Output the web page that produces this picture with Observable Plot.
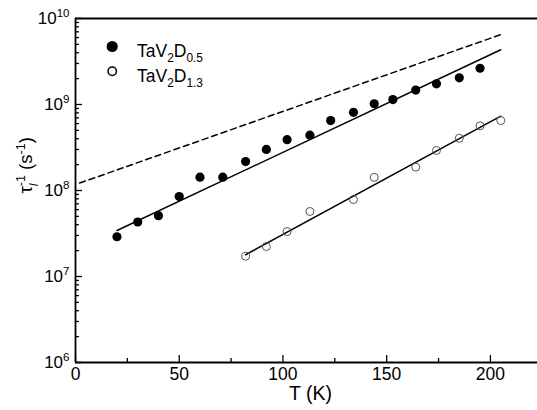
<!DOCTYPE html>
<html><head><meta charset="utf-8">
<script src="https://cdn.jsdelivr.net/npm/d3@7"></script>
<script src="https://cdn.jsdelivr.net/npm/@observablehq/plot@0.6"></script>
<style>
body{margin:0;background:#fff;}
#chart{width:537px;height:410px;overflow:hidden;}
svg{font-family:"Liberation Sans",Arial,Helvetica,sans-serif;}
</style></head><body><div id="chart"></div>
<script>
// TaV2D0.5 (filled)
const tempD05 = [20, 30, 40, 50, 60, 71, 82, 92, 102, 113, 123, 134, 144, 153, 164, 174, 185, 195];
const rateD05 = [2.9e7, 4.3e7, 5.1e7, 8.5e7, 1.43e8, 1.43e8, 2.17e8, 3.0e8, 3.9e8, 4.4e8, 6.5e8, 8.1e8, 1.02e9, 1.14e9, 1.47e9, 1.74e9, 2.04e9, 2.64e9];
// TaV2D1.3 (open)
const tempD13 = [82, 92, 102, 113, 134, 144, 164, 174, 185, 195, 205];
const rateD13 = [1.72e7, 2.23e7, 3.33e7, 5.7e7, 7.85e7, 1.42e8, 1.87e8, 2.92e8, 4.05e8, 5.65e8, 6.5e8];
// fitted lines (endpoints)
const fitD05T = [20, 205];
const fitD05Rate = [3.43e7, 4.33e9];
const fitD13T = [82, 205];
const fitD13Rate = [1.79e7, 7.31e8];
const dashedT = [2, 205];
const dashedRate = [1.22e8, 6.5e9];
// legend / labels
const seriesNames = ["TaV_{2}D_{0.5}", "TaV_{2}D_{1.3}"];
const xLabel = "T (K)";
const yLabel = "τ_{*l}^{-1} (s^{-1})";
// ticks
const xMajor = [0, 50, 100, 150, 200];
const xMinor = [25, 75, 125, 175];
const yExponents = [6, 7, 8, 9, 10];
const yMajor = yExponents.map(e => Math.pow(10, e));
const yMinor = [];
yExponents.slice(0, -1).forEach(e => { for (let m = 2; m <= 9; m++) yMinor.push(m * Math.pow(10, e)); });

const zip = (xs, ys) => xs.map((x, i) => ({x, y: ys[i]}));
const d05 = zip(tempD05, rateD05);
const d13 = zip(tempD13, rateD13);
const f05 = zip(fitD05T, fitD05Rate);
const f13 = zip(fitD13T, fitD13Rate);
const fd = zip(dashedT, dashedRate);

const chart = Plot.plot({
  width: 537,
  height: 410,
  marginLeft: 75,
  marginTop: 18,
  marginBottom: 48,
  marginRight: 0,
  style: {fontFamily: '"Liberation Sans", Arial, sans-serif', background: "#fff", color: "#000"},
  x: {domain: [0, 222.7]},
  y: {type: "log", domain: [1e6, 1e10]},
  marks: [
    Plot.axisX({ticks: xMajor, tickSize: -7, tickFormat: () => "", label: null, strokeWidth: 1.3}),
    Plot.axisX({ticks: xMinor, tickSize: -4, tickFormat: () => "", label: null, strokeWidth: 1.3}),
    Plot.axisX({ticks: xMajor, tickSize: 0, tickPadding: 5, fontSize: 17.5, label: null, tickFormat: d => String(d)}),
    Plot.axisY({ticks: yMajor, tickSize: -7, tickFormat: () => "", label: null, strokeWidth: 1.3}),
    Plot.axisY({ticks: yMinor, tickSize: -4, tickFormat: () => "", label: null, strokeWidth: 1.3}),
    Plot.axisY({ticks: yMajor, tickSize: 0, tickPadding: 6, fontSize: 17, label: null, tickFormat: d => `10^{${Math.round(Math.log10(d))}}`}),
    Plot.ruleY([1e10], {strokeWidth: 1.8}),
    Plot.ruleY([1e6], {strokeWidth: 1.8}),
    Plot.ruleX([0], {strokeWidth: 1.8}),
    Plot.line(fd, {x: "x", y: "y", stroke: "#000", strokeWidth: 1.5, strokeDasharray: "6,4"}),
    Plot.line(f05, {x: "x", y: "y", stroke: "#000", strokeWidth: 1.5}),
    Plot.line(f13, {x: "x", y: "y", stroke: "#000", strokeWidth: 1.5}),
    Plot.dot(d05, {x: "x", y: "y", r: 4.6, fill: "#000", stroke: "none"}),
    Plot.dot(d13, {x: "x", y: "y", r: 4, fill: "none", stroke: "#555", strokeWidth: 1}),
    // legend
    Plot.dot([seriesNames[0]], {frameAnchor: "top-left", dx: 36.7, dy: 28, r: 5.6, fill: "#000", stroke: "none"}),
    Plot.dot([seriesNames[1]], {frameAnchor: "top-left", dx: 36.7, dy: 52.7, r: 4.2, fill: "none", stroke: "#000", strokeWidth: 1.5}),
    Plot.text([seriesNames[0]], {text: d => d, frameAnchor: "top-left", dx: 61.5, dy: 26, textAnchor: "start", fontSize: 17.5}),
    Plot.text([seriesNames[1]], {text: d => d, frameAnchor: "top-left", dx: 61.5, dy: 50.6, textAnchor: "start", fontSize: 17.5}),
    // axis titles
    Plot.text([xLabel], {text: d => d, frameAnchor: "bottom", dx: 4, dy: 37, fontSize: 19.5}),
    Plot.text([yLabel], {text: d => d, frameAnchor: "left", rotate: -90, dx: -49, dy: 3, fontSize: 18.5})
  ]
});
document.getElementById("chart").appendChild(chart);

// rich text: ^{sup}, _{sub}, '*' prefix = italic
const NS = "http://www.w3.org/2000/svg";
function parseRich(s) {
  const segs = []; let i = 0, buf = "";
  while (i < s.length) {
    const c = s[i];
    if ((c === "^" || c === "_") && s[i + 1] === "{") {
      if (buf) { segs.push({t: buf, k: "n"}); buf = ""; }
      const j = s.indexOf("}", i);
      let t = s.slice(i + 2, j), it = false;
      if (t[0] === "*") { it = true; t = t.slice(1); }
      segs.push({t, k: c === "^" ? "sup" : "sub", it});
      i = j + 1;
    } else { buf += c; i++; }
  }
  if (buf) segs.push({t: buf, k: "n"});
  return segs;
}
d3.select(chart).selectAll("text").each(function () {
  const el = this;
  const s = el.textContent;
  if (!/[\^_]\{/.test(s)) return;
  const fs = parseFloat(getComputedStyle(el).fontSize) || 16;
  el.textContent = "";
  let cur = 0, prevEl = null, prevKind = null;
  parseRich(s).forEach(seg => {
    const ts = document.createElementNS(NS, "tspan");
    const target = seg.k === "sup" ? -0.4 * fs : seg.k === "sub" ? 0.3 * fs : 0;
    ts.setAttribute("dy", (target - cur).toFixed(2));
    cur = target;
    if (seg.k !== "n") ts.setAttribute("font-size", (0.68 * fs).toFixed(2));
    if (seg.it) ts.setAttribute("font-style", "italic");
    if (seg.k === "sup" && prevKind === "sub" && prevEl) {
      ts.setAttribute("dx", (-prevEl.getComputedTextLength()).toFixed(2));
    }
    ts.textContent = seg.t;
    el.appendChild(ts);
    prevEl = ts; prevKind = seg.k;
  });
});
</script>
</body></html>
